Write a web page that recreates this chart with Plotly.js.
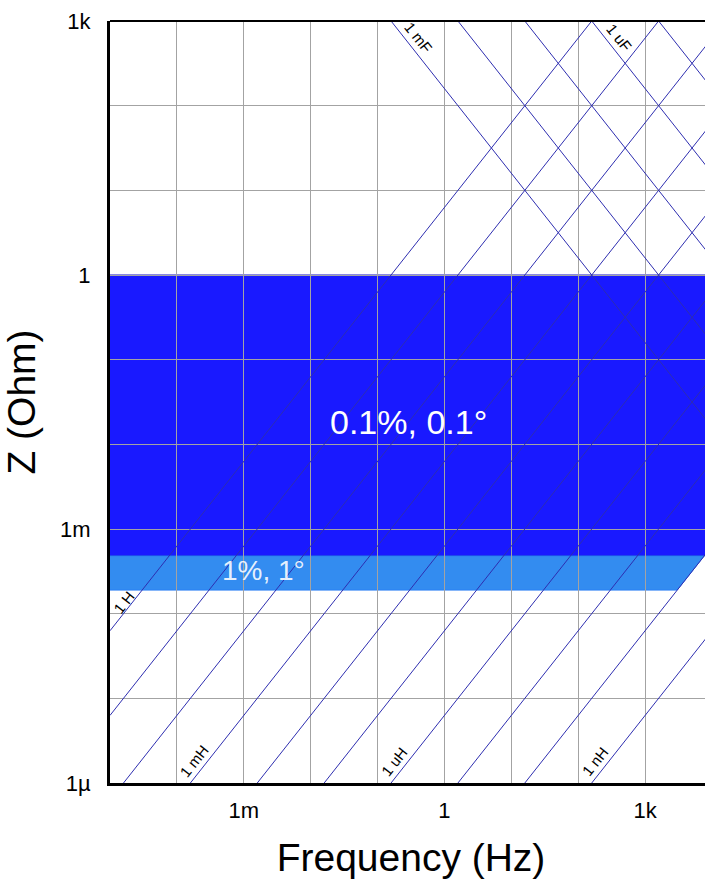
<!DOCTYPE html>
<html>
<head>
<meta charset="utf-8">
<script src="https://cdn.plot.ly/plotly-3.0.1.min.js"></script>
<style>
html,body{margin:0;padding:0;overflow:hidden;background:#fff;}
#chart{width:712px;height:883px;}
</style>
</head>
<body>
<div id="chart"></div>
<script>
// ---------------- data ----------------
const freqRangeLog = [-5, 4];          // 10 µHz .. 10 kHz (decades)
const zRangeLog = [-6, 3];             // 1 µΩ .. 1 kΩ (decades)
const tickValsX = [1e-5, 1e-4, 1e-3, 1e-2, 1e-1, 1, 1e1, 1e2, 1e3, 1e4];
const tickTextX = ["", "", "1m", "", "", "1", "", "", "1k", ""];
const tickValsY = [1e-6, 1e-5, 1e-4, 1e-3, 1e-2, 1e-1, 1, 1e1, 1e2, 1e3];
const tickTextY = ["1µ", "", "", "1m", "", "", "1", "", "", "1k"];

const inductances = [1, 1e-1, 1e-2, 1e-3, 1e-4, 1e-5, 1e-6, 1e-7, 1e-8, 1e-9]; // H
const capacitances = [1e-3, 1e-4, 1e-5, 1e-6, 1e-7];                          // F
const labeledInductances = [1, 1e-3, 1e-6, 1e-9];
const inductanceLabels = ["1 H", "1 mH", "1 uH", "1 nH"];
const labeledCapacitances = [1e-3, 1e-6];
const capacitanceLabels = ["1 mF", "1 uF"];

const bandNames = ["0.1%, 0.1°", "1%, 1°"];
const bandZLow = [4.8e-4, 1.9e-4];   // Ohm
const bandZHigh = [1, 4.8e-4];       // Ohm
const bandEdgeInductance = 1e-8;     // H, high-frequency limit of the bands

// ---------------- layout geometry ----------------
const W = 712, H = 883;
const M = {l: 110, r: 0, t: 21, b: 100};
const plotW = W - M.l - M.r, plotH = H - M.t - M.b;
const pxX = plotW / (freqRangeLog[1] - freqRangeLog[0]);
const pxY = plotH / (zRangeLog[1] - zRangeLog[0]);
const theta = Math.atan(pxY / pxX);
const deg = theta * 180 / Math.PI;
const cosT = Math.cos(theta), sinT = Math.sin(theta);
const FONT = "Liberation Sans, Arial, Helvetica, sans-serif";
const TWO_PI = 2 * Math.PI;
const fMin = Math.pow(10, freqRangeLog[0]);
const fMax = Math.pow(10, freqRangeLog[1]);
const LINE_COLOR = "#2e2eb0";

// ---------------- traces ----------------
const traces = [];
inductances.forEach(L => {
  traces.push({
    type: "scatter", mode: "lines", hoverinfo: "skip",
    x: [fMin, fMax], y: [TWO_PI * fMin * L, TWO_PI * fMax * L],
    line: {color: LINE_COLOR, width: 1}
  });
});
capacitances.forEach(C => {
  traces.push({
    type: "scatter", mode: "lines", hoverinfo: "skip",
    x: [fMin, fMax], y: [1 / (TWO_PI * fMin * C), 1 / (TWO_PI * fMax * C)],
    line: {color: LINE_COLOR, width: 1}
  });
});

// ---------------- band shapes (below grid) ----------------
function num(v) { return v.toFixed(14); }
const bandFill = ["#1919ff", "#338cf0"];
const bandLine = ["#1010c8", "#2a7ff5"];
const shapes = [];
bandNames.forEach((name, i) => {
  const zl = bandZLow[i], zh = bandZHigh[i];
  const fl = zl / (TWO_PI * bandEdgeInductance);
  const fh = zh / (TWO_PI * bandEdgeInductance);
  const f0 = fMin / 10;
  const path = "M " + num(f0) + "," + num(zh) +
               " L " + num(fh) + "," + num(zh) +
               " L " + num(fl) + "," + num(zl) +
               " L " + num(f0) + "," + num(zl) + " Z";
  shapes.push({
    type: "path", xref: "x", yref: "y", layer: "below", path: path,
    fillcolor: bandFill[i], line: {color: bandLine[i], width: 1}
  });
});
// top frame line
shapes.push({type: "line", xref: "paper", yref: "paper", x0: 0, x1: 1, y0: 1, y1: 1,
             line: {color: "#000", width: 2}});

// ---------------- annotations ----------------
const annotations = [];
const lblFont = {family: FONT, size: 15, color: "#000"};
labeledInductances.forEach((L, i) => {
  const k = Math.log10(TWO_PI * L);
  let lf, lz, d, h;
  const zLeft = k + freqRangeLog[0];
  if (zLeft >= zRangeLog[0]) { lf = freqRangeLog[0]; lz = zLeft; d = 31; h = 7; }
  else { lz = zRangeLog[0]; lf = lz - k; d = 19; h = 11; }
  const dl = d * cosT / pxX;
  annotations.push({
    x: lf + dl, y: lz + dl, xref: "x", yref: "y", showarrow: false,
    text: inductanceLabels[i], textangle: -deg, font: lblFont,
    xshift: -h * sinT, yshift: h * cosT
  });
});
labeledCapacitances.forEach((C, i) => {
  const k = -Math.log10(TWO_PI * C);
  const lz = zRangeLog[1];
  const lf = k - lz;
  const d = 30, h = 11;
  const dl = d * cosT / pxX;
  annotations.push({
    x: lf + dl, y: lz - dl, xref: "x", yref: "y", showarrow: false,
    text: capacitanceLabels[i], textangle: deg, font: lblFont,
    xshift: h * sinT, yshift: h * cosT
  });
});
// band labels
const bandLabelPos = [[-0.53, -1.735], [-2.70, -3.49]];
const bandLabelFont = [
  {family: FONT, size: 34, color: "#ffffff"},
  {family: FONT, size: 28, color: "rgba(255,255,255,0.88)"}
];
bandNames.forEach((name, i) => {
  annotations.push({
    x: bandLabelPos[i][0], y: bandLabelPos[i][1], xref: "x", yref: "y",
    showarrow: false, text: name, font: bandLabelFont[i]
  });
});

// ---------------- layout ----------------
const axisCommon = {
  type: "log", showgrid: true, gridcolor: "#a3a3a3", gridwidth: 1,
  zeroline: false, showline: true, linecolor: "#000", linewidth: 3,
  mirror: false, ticks: "", tickmode: "array",
  tickfont: {family: FONT, size: 22, color: "#000"}
};
const layout = {
  width: W, height: H, margin: M,
  paper_bgcolor: "#fff", plot_bgcolor: "#fff",
  showlegend: false, hovermode: false,
  font: {family: FONT, color: "#000"},
  xaxis: Object.assign({}, axisCommon, {
    range: freqRangeLog, tickvals: tickValsX, ticktext: tickTextX,
    ticklabelstandoff: 6,
    title: {text: "Frequency (Hz)", font: {family: FONT, size: 39, color: "#000"}, standoff: 22}
  }),
  yaxis: Object.assign({}, axisCommon, {
    range: zRangeLog, tickvals: tickValsY, ticktext: tickTextY,
    ticklabelstandoff: 12,
    title: {text: "Z (Ohm)", font: {family: FONT, size: 39, color: "#000"}, standoff: 14}
  }),
  shapes: shapes,
  annotations: annotations
};

Plotly.newPlot("chart", traces, layout, {staticPlot: true, displayModeBar: false});
</script>
</body>
</html>
